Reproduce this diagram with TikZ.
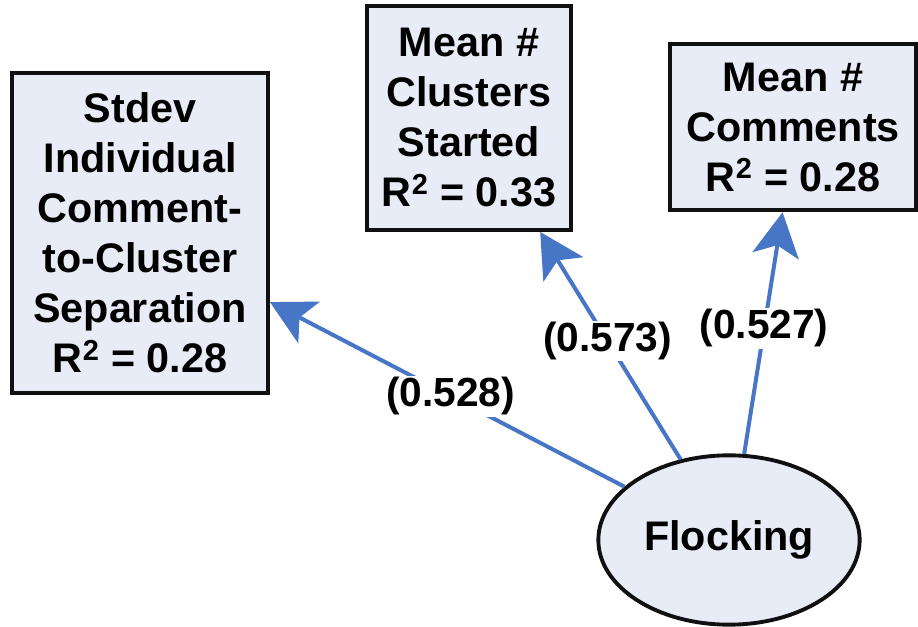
\documentclass[tikz,border=0pt]{standalone}
\usepackage{fontspec}
\setmainfont{Liberation Sans}
\usepackage{tikz}
\usetikzlibrary{arrows.meta,shapes.geometric}
\definecolor{cfill}{HTML}{E8ECF7}
\definecolor{cblue}{HTML}{4776C6}
\definecolor{cink}{HTML}{101010}
\tikzset{>={Stealth[length=33pt,width=35pt,inset=8pt]}}
\tikzset{
  measure/.style={draw=cink,line width=2.9pt,fill=cfill,align=center,inner sep=0pt,
    font=\fontsize{31}{37.5}\selectfont\bfseries},
  latent/.style={ellipse,draw=cink,line width=2.9pt,fill=cfill,inner sep=0pt,
    minimum width=196pt,minimum height=127pt,font=\fontsize{31}{37.5}\selectfont\bfseries},
  load/.style={->,cblue,line width=3pt},
  coef/.style={fill=white,inner sep=1pt,text=black,font=\fontsize{30.5}{34}\selectfont\bfseries}
}

\begin{document}
\begin{tikzpicture}[x=0.75pt,y=-0.75pt]
\useasboundingbox (0,0) rectangle (918,627);

% ============ indicators ============
\node[measure,minimum width=192pt,minimum height=240pt] (sep) at (140,233)
  {Stdev\\Individual\\Comment-\\to-Cluster\\Separation\\R\textsuperscript{2} = 0.28};
\node[measure,minimum width=153pt,minimum height=168pt] (clus) at (469,118)
  {Mean \#\\Clusters\\Started\\R\textsuperscript{2} = 0.33};
\node[measure,minimum width=184pt,minimum height=125pt] (comm) at (793,127)
  {Mean \#\\Comments\\R\textsuperscript{2} = 0.28};

% ============ factor ============
\node[latent] (flock) at (729,540) {Flocking};

% ============ loadings ============
\draw[load] (flock.153) -- node[coef,pos=0.49] {(0.528)} (sep.-28.3);
\draw[load] (flock.121.5) -- node[coef,pos=0.52] {(0.573)} (clus.-58);
\draw[load] (flock.80.4) -- node[coef,pos=0.52] {(0.527)} (comm.-97.4);

\end{tikzpicture}
\end{document}
